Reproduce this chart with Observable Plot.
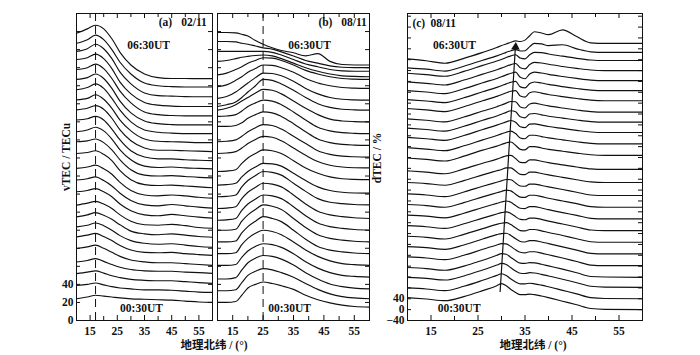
<!DOCTYPE html>
<html><head><meta charset="utf-8">
<script src="https://cdn.jsdelivr.net/npm/d3@7"></script>
<script src="https://cdn.jsdelivr.net/npm/@observablehq/plot@0.6"></script>
<style>
body{margin:0;background:#fff;}
#wrap{position:relative;width:700px;height:355px;overflow:hidden;font-family:"Liberation Serif","Noto Sans CJK SC",serif;color:#111;}
#wrap svg{position:absolute;top:0;}
.lab{position:absolute;font-size:11.5px;font-weight:bold;white-space:nowrap;line-height:1;}
.rot{transform:translate(-50%,-50%) rotate(-90deg);}
.ctr{transform:translate(-50%,-50%);}
</style></head><body><div id="wrap"></div>
<script>
// ---------- data ----------
const A_LAT = [10, 14, 17, 20, 23, 26, 30, 35, 40, 45, 50, 55, 60];
const A_VTEC = [ // 02/11, 00:30UT (first) .. 06:30UT (last), TECu
  [24.1, 26, 28, 27, 26, 25, 24, 23.5, 23, 22.5, 21.5, 20.5, 20],
  [28.9, 30, 31.5, 29.5, 27.5, 26, 25, 24, 24, 23.5, 22.5, 21.5, 21.1],
  [31.9, 33.5, 35, 32.5, 29.5, 27.5, 25.5, 24.5, 24, 24, 23, 22, 21.1],
  [34.8, 36.5, 38.5, 35.5, 32, 29, 26.5, 25, 24.5, 24.5, 23.5, 23, 22.2],
  [39.7, 41.5, 43.5, 40, 35.5, 31, 27, 25, 24, 24, 23, 22, 21.1],
  [42.6, 44.5, 46.5, 43, 38.5, 33, 28, 25.5, 25, 25.5, 24, 23, 22.2],
  [43.7, 45.5, 48, 45, 40, 34, 28.5, 25.5, 24.5, 25, 23.5, 22, 21.1],
  [44.8, 47, 49.5, 46.5, 42, 36, 29, 26, 25, 26, 24.5, 23, 22.2],
  [47.8, 50, 52, 49, 44, 37, 30, 26, 25.5, 26.5, 25, 23, 22.2],
  [52.6, 54, 56, 52.5, 47, 39, 31.5, 27, 26, 27.5, 26, 24.5, 23.3],
  [55.6, 57, 59, 55, 49, 41, 33, 28, 27, 28.5, 27, 25.5, 24.5],
  [58.5, 60, 62, 58, 52, 43, 34, 29, 28, 29, 28, 26.5, 25.5],
  [65, 66, 68, 64, 57, 46, 36, 30.5, 29.5, 30, 29, 28, 27],
  [68, 69, 71, 67, 59, 48, 37, 31, 30, 30.5, 29.5, 28.5, 28],
  [69, 71, 74, 70, 61, 49, 38, 31, 29.5, 30, 29, 28.5, 28],
  [72, 73.5, 76, 72, 62, 50, 38, 31, 29, 29, 28, 27.5, 27],
  [73.3, 75, 78, 74, 64, 51, 39, 31, 28.5, 28.5, 28, 27.5, 27],
  [74.4, 76, 80, 75, 65, 52, 40, 31, 28.5, 28, 27.5, 27, 27],
  [75.6, 78, 82, 77, 66, 53, 40, 31, 28.5, 27.5, 27, 27, 27],
  [77, 79, 83, 78, 67, 53, 40, 31, 28, 27, 26.7, 26.7, 26.7],
  [78, 80, 84, 79, 68, 54, 41, 31, 28, 27, 26.7, 26.7, 26.7],
  [79, 81, 85, 80, 69, 54, 41, 31.5, 28.5, 27.5, 27, 27, 27],
  [78, 81, 86, 81, 70, 55, 42, 32, 29, 28.5, 28, 27.8, 27.8],
  [77, 81, 86, 81, 70, 56, 43, 33, 30, 29, 28.6, 28.6, 28.6],
  [78, 83, 87, 83, 72, 57, 43, 33, 29, 28, 28, 27.8, 27.8]
];
const B_LAT = [10, 13, 16, 18, 20, 22.5, 25, 28, 31, 35, 39, 43, 47, 51, 55, 60];
const B_VTEC = [ // 08/11
  [20, 20, 21, 28, 36, 40, 42.6, 41, 38.5, 34.5, 28, 23, 19.5, 17, 15.5, 14.8],
  [23, 23, 24, 32, 40, 44.5, 47.4, 46, 43, 38, 31, 24.5, 19.5, 16.5, 15, 14.1],
  [26, 26, 27.5, 36, 44, 49, 52, 51, 48, 41.5, 33, 26, 20.5, 17.5, 15.8, 15],
  [31, 31, 32, 40, 47, 52, 55, 54, 51, 44, 35, 28, 23, 20, 18.8, 18],
  [34, 34, 35, 44, 51, 56.5, 60, 58.5, 55, 47, 38, 31, 26, 23, 21.8, 21],
  [37, 37, 38, 47, 54, 60, 65, 63, 59.5, 50, 40, 32, 28, 26, 24.8, 24],
  [40, 40, 41, 50, 57, 63, 68, 66.5, 63, 53, 43, 35, 31, 29, 27.8, 27],
  [41, 41.5, 43, 52, 59, 64.5, 69, 68, 65, 56, 46, 38, 34, 32, 30.8, 30],
  [44, 44.5, 46, 55, 62, 67.5, 72, 71, 68, 59, 49, 41, 37, 35, 33.8, 33],
  [47, 47.5, 49, 58, 65, 70.5, 75, 74, 71, 62, 53, 45, 41, 39.5, 38.5, 38],
  [50, 50.5, 52, 59, 65, 70, 74, 73.5, 71, 63, 55, 48, 44, 42, 41.2, 41],
  [55, 55.5, 57, 64, 70, 75, 79, 78, 75, 67, 59, 53, 49, 47, 46.3, 46],
  [65, 65.5, 67, 71, 76, 80.5, 84, 83, 79, 71, 63, 56, 52, 50, 49.2, 49],
  [68, 68.5, 70, 74, 79, 83.5, 87, 86, 82, 74, 66, 58, 54, 52, 51.3, 51],
  [75, 75, 76, 79, 84, 88, 91, 90, 86, 78, 69, 61, 57, 55, 54.3, 54],
  [76, 76.5, 78, 82, 87, 91, 94, 93, 89, 81, 72, 64, 60, 58, 57.3, 57],
  [73, 75, 79, 83, 87, 92, 96, 95, 91, 83, 75, 68, 63, 61, 60.3, 60],
  [67, 69, 72, 77, 83, 90, 97, 96, 92, 85, 77, 70, 66, 64, 63.3, 63],
  [66, 68, 73, 78, 83, 89, 94, 93.5, 91, 85, 77, 71, 67, 65, 64.3, 64],
  [69, 71, 76, 80, 85, 89, 93, 92.5, 90, 85, 78, 73, 70, 68, 67.3, 67],
  [72, 74, 78, 81, 85, 88, 91, 90.5, 88, 83, 77, 73, 70, 68, 67.3, 67],
  [77, 78, 80, 81.5, 82.5, 83.5, 84, 83, 80, 75, 70, 66, 63, 61, 60.3, 60],
  [78, 78, 78, 78, 78, 78, 78, 77, 74, 69, 64, 61, 58, 56.5, 56, 56],
  [79, 79, 78.5, 77, 76, 74, 72, 70.5, 67.5, 63, 58, 55, 52, 50.5, 50, 50],
  [79, 79, 78.5, 77, 75, 70, 66, 62, 59, 56.5, 53, 55.5, 47, 43.5, 43, 43]
];
const C_LAT = [10, 14, 18, 22, 26, 29, 30, 31, 32, 33, 34, 35, 36, 37, 38.5, 40, 43, 46, 49, 52, 60];
const C_DTEC = [ // 08/11 relative to 02/11, %
  [44, 39, 33, 48, 70, 88, 96, 88, 74, 63, 55, 55, 57, 55, 50, 44, 31, 18, 4, 1, 0],
  [40, 36, 30, 46, 68, 86, 92, 86, 73, 62, 55, 55, 57, 55, 50, 44, 31, 18, 4, 1, 0],
  [39, 35, 29, 44, 66, 84, 90, 86, 74, 62, 54, 53, 56, 55, 50, 44, 32, 19, 6, 3, 2],
  [35, 31, 25, 40, 62, 80, 86, 84, 72, 60, 51, 50, 53, 52, 47, 41, 29, 16, 2, 0, -1],
  [34, 30, 24, 40, 62, 78, 83, 82, 72, 60, 51, 49, 53, 53, 48, 42, 30, 17, 4, 2, 2],
  [32, 28, 22, 38, 60, 76, 80, 81, 73, 61, 51, 49, 54, 54, 49, 43, 31, 19, 7, 5, 5],
  [30, 26, 20, 37, 58, 74, 78, 80, 73, 61, 51, 50, 55, 55, 50, 44, 33, 21, 10, 8, 8],
  [29, 25, 19, 36, 57, 72, 77, 80, 74, 62, 52, 51, 57, 57, 52, 46, 35, 24, 13, 11, 11],
  [28, 24, 18, 35, 56, 71, 76, 80, 75, 63, 53, 52, 59, 59, 54, 48, 37, 27, 16, 14, 14],
  [27, 23, 17, 34, 55, 70, 75, 80, 77, 65, 54, 53, 61, 61, 56, 50, 40, 30, 19, 17, 17],
  [26, 22, 16, 33, 54, 69, 74, 79, 78, 66, 55, 54, 62, 62, 57, 52, 42, 32, 22, 20, 20],
  [28, 24, 18, 35, 56, 71, 76, 82, 82, 70, 58, 57, 66, 66, 61, 56, 47, 38, 30, 28, 28],
  [31, 26, 20, 38, 59, 74, 80, 86, 88, 76, 62, 61, 71, 71, 66, 61, 53, 45, 38, 36, 36],
  [38, 33, 27, 45, 67, 82, 88, 94, 97, 85, 70, 68, 80, 80, 75, 70, 63, 56, 50, 48, 48],
  [36, 31, 25, 43, 65, 81, 87, 93, 97, 88, 72, 69, 82, 82, 77, 72, 65, 58, 52, 50, 50],
  [34, 29, 23, 41, 63, 79, 85, 91, 96, 90, 73, 70, 83, 84, 79, 74, 67, 60, 54, 52, 52],
  [28, 23, 17, 35, 57, 73, 79, 86, 92, 88, 70, 66, 80, 82, 77, 72, 65, 58, 52, 50, 50],
  [22, 17, 11, 29, 51, 67, 73, 80, 86, 85, 66, 62, 77, 80, 75, 70, 62, 55, 49, 47, 47],
  [20, 15, 9, 27, 49, 65, 71, 78, 84, 86, 66, 62, 78, 82, 77, 72, 64, 57, 51, 49, 49],
  [13, 8, 2, 20, 42, 58, 64, 71, 77, 80, 60, 56, 72, 78, 74, 69, 61, 54, 48, 46, 46],
  [6, 1, -5, 13, 35, 51, 57, 64, 70, 74, 55, 50, 67, 74, 71, 66, 58, 51, 45, 43, 43],
  [-2, -7, -13, 5, 27, 43, 49, 56, 62, 66, 50, 46, 62, 70, 68, 63, 55, 48, 42, 40, 40],
  [-10, -15, -21, -3, 19, 35, 41, 48, 54, 58, 46, 43, 58, 67, 66, 61, 53, 45, 39, 37, 37],
  [-30, -35, -42, -24, -2, 14, 20, 27, 33, 37, 32, 33, 48, 60, 58, 52, 55, 40, 29, 27, 27],
  [-37, -44, -53, -35, -13, 5, 12, 18, 24, 29, 27, 32, 48, 63, 58, 52, 70, 45, 22, 20, 20]
];
const A_STEP = 10;   // TECu offset between successive 15-min profiles
const C_STEP = 40;   // % offset between successive profiles
const X_MAJOR = [15, 25, 35, 45, 55];
const X_MINOR = [20, 30, 40, 50];
const AB_Y_TICKS = [20, 40, 60, 80, 100, 120, 140, 160, 180, 200, 220, 240, 260, 280, 300, 320];
const C_Y_TICKS = [0, 40, 80, 120, 160, 200, 240, 280, 320, 360, 400, 440, 480, 520, 560, 600, 640, 680, 720, 760, 800, 840, 880, 920, 960, 1000, 1040, 1080];
const A_Y_LABELS = [0, 20, 40];
const C_Y_LABELS = [-40, 0, 40];
const DASH_A = [17];
const DASH_B = [25];
const ARROW = [{lat1: 29.7, v1: 65, lat2: 33, v2: 978}];
const TAGS = [
  {p: "a", lat: 42.7, v: 330, t: "(a)"}, {p: "a", lat: 53.2, v: 330, t: "02/11"},
  {p: "a", lat: 36.5, v: 305, t: "06:30UT"}, {p: "a", lat: 33.9, v: 13, t: "00:30UT"},
  {p: "b", lat: 45.5, v: 330, t: "(b)"}, {p: "b", lat: 54.9, v: 330, t: "08/11"},
  {p: "b", lat: 40.3, v: 305, t: "06:30UT"}, {p: "b", lat: 33.7, v: 13, t: "00:30UT"},
  {p: "c", lat: 12.4, v: 1055, t: "(c)"}, {p: "c", lat: 17.6, v: 1055, t: "08/11"},
  {p: "c", lat: 20.0, v: 974, t: "06:30UT"}, {p: "c", lat: 21.0, v: 4, t: "00:30UT"}
];

// ---------- drawing ----------
function rows(lat, vals, step) {
  const out = [];
  vals.forEach((arr, i) => arr.forEach((v, j) => out.push({lat: lat[j], v: v + step * i, k: i})));
  return out;
}
const H = 307;
function panel(o) {
  const W = o.width - o.ml - o.mr;
  const marks = [
    Plot.line(rows(o.lat, o.vals, o.step), {x: "lat", y: "v", z: "k", curve: "monotone-x", stroke: "#111", strokeWidth: 1.15}),
    Plot.tickX(X_MAJOR, {x: d => d, insetTop: H - 5, stroke: "#111"}),
    Plot.tickX(X_MINOR, {x: d => d, insetTop: H - 4, stroke: "#111"}),
    Plot.tickX(X_MAJOR, {x: d => d, insetBottom: H - 5, stroke: "#111"}),
    Plot.tickX(X_MINOR, {x: d => d, insetBottom: H - 4, stroke: "#111"}),
    Plot.tickY(o.yticks, {y: d => d, insetRight: W - 4, stroke: "#111"}),
    Plot.tickY(o.yticks, {y: d => d, insetLeft: W - 4, stroke: "#111"}),
    Plot.axisX(X_MAJOR, {anchor: "bottom", tickSize: 0, tickPadding: 6, label: null}),
    Plot.text(TAGS.filter(d => d.p === o.p), {x: "lat", y: "v", text: "t", textAnchor: "middle", lineAnchor: "middle", fill: "#111"}),
    Plot.frame({stroke: "#111", strokeWidth: 1})
  ];
  if (o.dash) marks.push(Plot.ruleX(o.dash, {x: d => d, stroke: "#111", strokeDasharray: "8,5", strokeWidth: 1}));
  if (o.ylabels) marks.push(Plot.axisY(o.ylabels, {anchor: "left", tickSize: 0, tickPadding: 3, label: null}));
  if (o.arrow) {
    marks.push(Plot.link(o.arrow, {x1: "lat1", y1: "v1", x2: "lat2", y2: "v2", stroke: "#111", strokeWidth: 1.2}));
    marks.push(Plot.dot(o.arrow, {x: "lat2", y: "v2", symbol: "triangle", r: 3.2, fill: "#111", stroke: "none", rotate: 3.6, dy: 3}));
  }
  const svg = Plot.plot({
    width: o.width, height: 355,
    marginLeft: o.ml, marginRight: o.mr, marginTop: 13, marginBottom: 35,
    x: {domain: [10, 60], label: null},
    y: {domain: o.ydom, label: null, axis: o.ylabels ? undefined : null},
    style: {fontFamily: "'Liberation Serif', serif", fontSize: "11.5px", fontWeight: "bold", background: "transparent", color: "#111"},
    marks
  });
  svg.style.left = o.left + "px";
  return svg;
}
const wrap = document.getElementById("wrap");
wrap.append(panel({p: "a", left: 40, width: 174, ml: 36, mr: 2, lat: A_LAT, vals: A_VTEC, step: A_STEP, ydom: [0, 340], yticks: AB_Y_TICKS, ylabels: A_Y_LABELS, dash: DASH_A}));
wrap.append(panel({p: "b", left: 215, width: 156, ml: 2, mr: 2, lat: B_LAT, vals: B_VTEC, step: A_STEP, ydom: [0, 340], yticks: AB_Y_TICKS, dash: DASH_B}));
wrap.append(panel({p: "c", left: 370, width: 274, ml: 37, mr: 2, lat: C_LAT, vals: C_DTEC, step: C_STEP, ydom: [-40, 1090], yticks: C_Y_TICKS, ylabels: C_Y_LABELS, arrow: ARROW}));

const labels = [
  {t: "vTEC / TECu", x: 67, y: 157, cls: "rot"},
  {t: "dTEC / %", x: 378, y: 158, cls: "rot"},
  {t: "地理北纬 / (°)", x: 214, y: 346, cls: "ctr"},
  {t: "地理北纬 / (°)", x: 533, y: 346, cls: "ctr"}
];
for (const l of labels) {
  const d = document.createElement("div");
  d.className = "lab " + l.cls;
  d.textContent = l.t;
  d.style.left = l.x + "px";
  d.style.top = l.y + "px";
  wrap.append(d);
}
</script></body></html>
